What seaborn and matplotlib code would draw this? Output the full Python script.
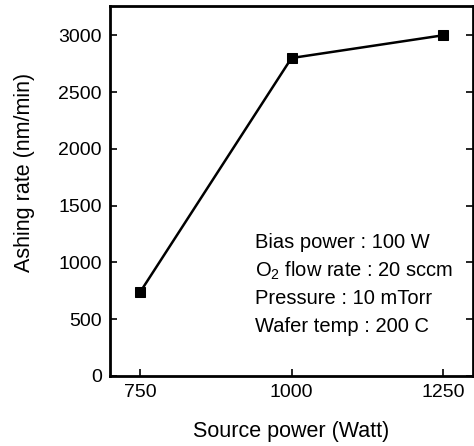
import pandas as pd
import matplotlib
matplotlib.use("Agg")
import matplotlib.pyplot as plt
import seaborn as sns

# Data
source_power = [750, 1000, 1250]
ashing_rate = [740, 2800, 3000]
conditions = ["Bias power : 100 W",
              "O$_2$ flow rate : 20 sccm",
              "Pressure : 10 mTorr",
              "Wafer temp : 200 C"]

df = pd.DataFrame({"Source power": source_power, "Ashing rate": ashing_rate})

sns.set_style("ticks")
plt.rcParams['font.family'] = ['Liberation Sans', 'DejaVu Sans']
plt.rcParams['mathtext.fontset'] = 'custom'
plt.rcParams['mathtext.rm'] = 'Liberation Sans'
for k in ['text.color', 'axes.labelcolor', 'xtick.color', 'ytick.color']:
    plt.rcParams[k] = 'black'

fig = plt.figure(figsize=(4.74, 4.46), dpi=100)
ax = fig.add_axes([0.232, 0.157, 0.766, 0.83])

sns.lineplot(data=df, x="Source power", y="Ashing rate", ax=ax,
             color="black", linewidth=1.8, marker="s", markersize=7,
             markeredgecolor="black", markerfacecolor="black")

ax.set_xlim(700, 1300)
ax.set_ylim(0, 3260)
ax.set_xticks(source_power)
ax.set_yticks([0, 500, 1000, 1500, 2000, 2500, 3000])
ax.tick_params(direction="in", length=5, width=1.2, labelsize=14, pad=6)
ax.tick_params(axis="y", right=True)
for s in ax.spines.values():
    s.set_linewidth(2)
    s.set_color("black")

ax.set_xlabel("Source power (Watt)", fontsize=15.5)
ax.set_ylabel("Ashing rate (nm/min)", fontsize=15.5)
ax.xaxis.set_label_coords(0.5, -0.122)
ax.yaxis.set_label_coords(-0.207, 0.55)

y0 = 0.36
for i, t in enumerate(conditions):
    ax.text(0.40, y0 - i * 0.075, t, transform=ax.transAxes,
            fontsize=14.5, va="center", ha="left")

fig.savefig("out.png", dpi=100)
